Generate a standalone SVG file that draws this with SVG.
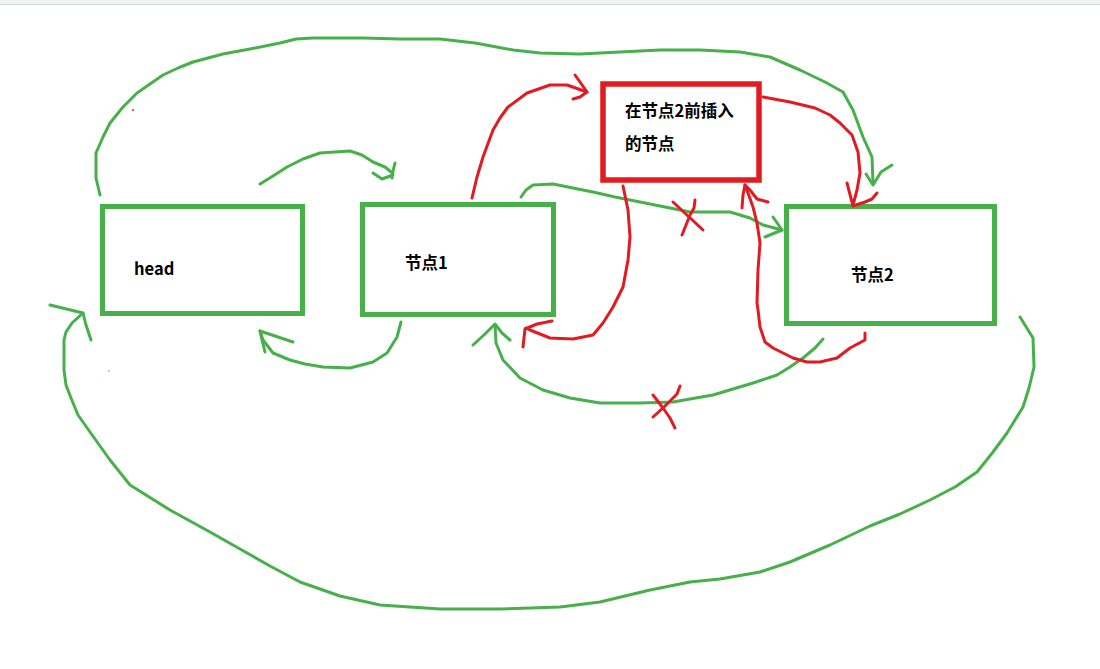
<svg xmlns="http://www.w3.org/2000/svg" width="1100" height="669" viewBox="0 0 1100 669">
<style>
.g{fill:none;stroke:#47b04b;stroke-width:3;stroke-linecap:round;stroke-linejoin:round}
.r{fill:none;stroke:#e11b22;stroke-width:3;stroke-linecap:round;stroke-linejoin:round}
.box{fill:#fff;stroke:#47b04b;stroke-width:5}
.rbox{fill:#fff;stroke:#e11b22;stroke-width:5.5}
.t{font-family:"Noto Sans CJK SC","Microsoft YaHei",sans-serif;font-weight:bold;font-size:16.5px;fill:#000}
</style>
<rect x="0" y="0" width="1100" height="669" fill="#fff"/>
<rect x="0" y="0" width="1100" height="4" fill="#f2f3f5"/>
<line x1="0" y1="4.5" x2="1100" y2="4.5" stroke="#d2d4d8" stroke-width="1"/>

<g id="head">
<rect class="box" x="102.5" y="206.5" width="200" height="107"/>
<text class="t" x="134" y="275">head</text>
</g>
<g id="node1">
<rect class="box" x="362.5" y="204.5" width="191" height="110"/>
<text class="t" x="405" y="269">节点1</text>
</g>
<g id="node2">
<rect class="box" x="786.5" y="206.5" width="208" height="117"/>
<text class="t" x="851" y="281">节点2</text>
</g>
<g id="newnode">
<rect class="rbox" x="603" y="84" width="156" height="96"/>
<text class="t" x="625" y="117">在节点2前插入</text>
<text class="t" x="625" y="150">的节点</text>
</g>

<g id="connectors">
<polyline class="g" points="100,195 96,178 96,153 103,137 110,123 123,107 137,93 150,84 163,75 178,68 193,62 208,58 223,54 250,49 280,43 296,39 313,38 340,38 363,38 400,39 440,39 475,43 513,50 540,53 580,54 620,52 660,50 700,50 740,52 770,57 800,70 825,82 843,92 853,110 863,137 872,157 873,183"/>
<polyline class="g" points="866,174 873,185 881,172 892,165"/>
<polyline class="g" points="260,184 273,176 287,167 303,159 320,153 335,152 350,151 362,155 373,162 385,167 391,172"/>
<polyline class="g" points="395,163 393,171 392,178"/>
<polyline class="g" points="373,173 382,179 393,175"/>
<polyline class="g" points="401,322 397,337 387,353 373,362 350,368 323,367 305,364 290,360 273,353 263,340 260,331"/>
<polyline class="g" points="265,352 262,340 260,331 275,336 293,342"/>
<polyline class="g" points="1020,317 1033,338 1034,367 1029,388 1023,407 1007,433 993,452 977,472 955,487 930,500 900,514 870,526 830,545 790,562 760,572 720,579 690,582 650,590 600,602 560,607 500,609 440,609 380,605 340,596 300,582 270,566 240,549 210,532 170,510 130,485 110,460 90,432 78,415 71,398 66,385 64,370 64,340 66,332 72,323 83,313"/>
<polyline class="g" points="50,305 83,313 86,325 91,340"/>
<polyline class="g" points="521,197 526,190 533,185 553,184 573,188 593,192 615,197 640,202 660,206 690,212 710,212 730,212 750,218 763,225 782,230"/>
<polyline class="g" points="773,217 782,230 765,237"/>
<polyline class="g" points="823,339 815,348 803,358 790,367 777,375 753,383 733,389 713,395 690,399 673,402 640,403 600,403 570,398 543,390 520,378 503,360 496,343 495,325"/>
<polyline class="g" points="473,345 485,334 495,324 502,333 510,340"/>

<polyline class="r" points="472,198 477,177 483,157 493,130 500,118 508,107 527,93 550,85 567,85 587,92"/>
<polyline class="r" points="575,75 580,82 587,92 580,97 573,99"/>
<polyline class="r" points="763,97 790,102 815,108 830,115 840,123 852,135 858,152 860,173 857,190 853,205"/>
<polyline class="r" points="847,183 853,206 865,202 872,199 877,193"/>
<polyline class="r" points="623,186 628,210 630,237 628,260 623,287 613,307 603,323 593,335 573,339 550,338 530,330 526,328"/>
<polyline class="r" points="552,321 537,324 525,329 523,347"/>
<polyline class="r" points="865,333 865,340 850,348 837,358 820,362 807,362 793,358 773,348 765,342 760,327 758,310 757,303 758,270 760,243 757,223 753,207 748,193 745,185"/>
<polyline class="r" points="742,208 743,195 745,185 750,190 757,199 768,202"/>

<polyline class="r" points="695,200 694,208 690,215 682,235"/>
<polyline class="r" points="673,202 688,216 703,230"/>
<polyline class="r" points="680,386 677,394 671,400 663,408 653,417"/>
<polyline class="r" points="653,395 663,408 670,418 675,428"/>
</g>
<circle cx="133" cy="110" r="1" fill="#e11b22"/>
<circle cx="109" cy="371" r="0.8" fill="#c0605a"/>
</svg>
